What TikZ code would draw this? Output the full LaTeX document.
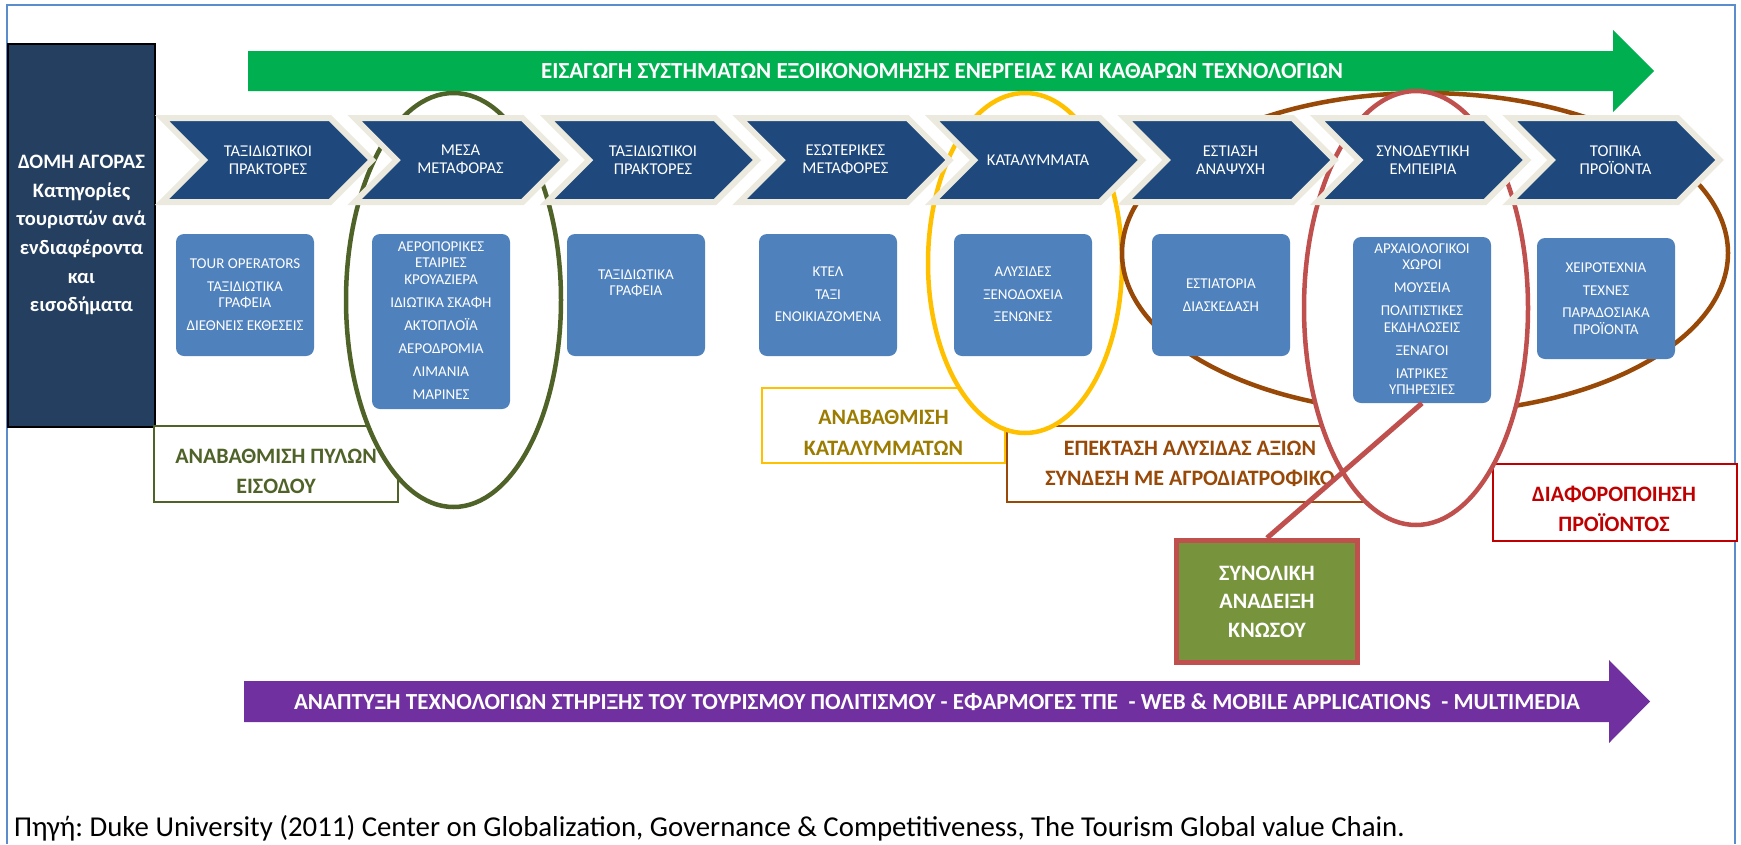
\documentclass[tikz,border=0pt]{standalone}
\usepackage{fontspec}
\setmainfont{Carlito}
\usetikzlibrary{shapes.geometric}
\frenchspacing
\definecolor{navybox}{RGB}{36,63,96}
\definecolor{chevnavy}{RGB}{31,73,125}
\definecolor{chevrim}{RGB}{236,234,222}
\definecolor{boxblue}{RGB}{79,129,189}
\definecolor{arrgreen}{RGB}{0,176,80}
\definecolor{arrpurple}{RGB}{112,48,160}
\definecolor{olivec}{RGB}{79,98,40}
\definecolor{goldc}{RGB}{255,192,0}
\definecolor{goldtext}{RGB}{156,124,0}
\definecolor{brownc}{RGB}{152,72,7}
\definecolor{redell}{RGB}{192,80,77}
\definecolor{redlab}{RGB}{192,0,0}
\definecolor{knfill}{RGB}{119,147,60}
\definecolor{framec}{RGB}{91,141,204}
\newcommand{\fntchev}{\fontsize{16.5}{18}\selectfont}
\newcommand{\fntbox}{\fontsize{15}{16.5}\selectfont}
\newcommand{\fntnav}{\bfseries\fontsize{20.5}{28.6}\selectfont}
\newcommand{\fntlab}{\bfseries\fontsize{22}{30.5}\selectfont}
\newcommand{\fntarr}{\bfseries\fontsize{23}{26}\selectfont}
\newcommand{\fntkn}{\bfseries\fontsize{22}{28.5}\selectfont}
\newcommand{\fntcap}{\fontsize{28.8}{32}\selectfont}
\begin{document}
\begin{tikzpicture}[x=1pt,y=-1pt,
  chev/.style={fill=chevnavy, draw=chevrim, line width=6pt, line join=miter},
  chevtext/.style={text=white, align=center, font=\fntchev, inner sep=0pt},
  bbox/.style={fill=boxblue, rounded corners=8pt, minimum width=138pt, inner sep=0pt},
  btext/.style={text=white, align=center, font=\fntbox, inner sep=0pt},
  lbox/.style={fill=white, line width=2.5pt, inner sep=0pt},
  ltext/.style={align=center, font=\fntlab, inner sep=0pt},
  ell/.style={ellipse, fill=white, line width=4.5pt, inner sep=0pt},
  arrtext/.style={text=white, font=\fntarr, inner sep=0pt},
  conn/.style={draw=redell, line width=5pt}]
\useasboundingbox (0,0) rectangle (1741,844);
% frame
\draw[framec, line width=2pt] (7,844) -- (7,5) -- (1735,5) -- (1735,844);
% left navy box
\node[draw=black, line width=2pt, fill=navybox, minimum width=147pt, minimum height=383pt, inner sep=0pt] (nav) at (81.5,235.5) {};
\node[text=white, align=center, font=\fntnav, inner sep=0pt] (navt) at (81.5,235) {ΔΟΜΗ ΑΓΟΡΑΣ\\Κατηγορίες\\τουριστών ανά\\ενδιαφέροντα\\και\\εισοδήματα};
% green arrow
\fill[arrgreen] (248,51) -- (1613,51) -- (1613,30) -- (1654,71) -- (1613,112) -- (1613,91) -- (248,91) -- cycle;
\node[arrtext] (gtext) at (942,71) {ΕΙΣΑΓΩΓΗ ΣΥΣΤΗΜΑΤΩΝ ΕΞΟΙΚΟΝΟΜΗΣΗΣ ΕΝΕΡΓΕΙΑΣ ΚΑΙ ΚΑΘΑΡΩΝ ΤΕΧΝΟΛΟΓΙΩΝ};
% purple arrow
\fill[arrpurple] (244,681) -- (1609,681) -- (1609,660) -- (1650,701.5) -- (1609,743) -- (1609,722) -- (244,722) -- cycle;
\node[arrtext] (ptext) at (937,702) {ΑΝΑΠΤΥΞΗ ΤΕΧΝΟΛΟΓΙΩΝ ΣΤΗΡΙΞΗΣ ΤΟΥ ΤΟΥΡΙΣΜΟΥ ΠΟΛΙΤΙΣΜΟΥ - ΕΦΑΡΜΟΓΕΣ ΤΠΕ \ - WEB \& MOBILE APPLICATIONS \ - MULTIMEDIA};
% label boxes
\node[lbox, draw=olivec, minimum width=244pt, minimum height=76pt] (l1) at (276,464) {};
\node[ltext, text=olivec] (l1t) at (276,471.5) {ΑΝΑΒΑΘΜΙΣΗ ΠΥΛΩΝ\\ΕΙΣΟΔΟΥ};
\node[lbox, draw=goldc, minimum width=243pt, minimum height=75pt] (l2) at (883.5,425.5) {};
\node[ltext, text=goldtext] (l2t) at (883.5,433) {ΑΝΑΒΑΘΜΙΣΗ\\ΚΑΤΑΛΥΜΜΑΤΩΝ};
\node[lbox, draw=brownc, minimum width=366pt, minimum height=76pt] (l3) at (1190,464) {};
\node[ltext, text=brownc] (l3t) at (1190,464) {ΕΠΕΚΤΑΣΗ ΑΛΥΣΙΔΑΣ ΑΞΙΩΝ\\ΣΥΝΔΕΣΗ ΜΕ ΑΓΡΟΔΙΑΤΡΟΦΙΚΟ};
\node[lbox, draw=redlab, minimum width=244pt, minimum height=77pt] (l4) at (1615,502.5) {};
\node[ltext, text=redlab] (l4t) at (1614,509) {ΔΙΑΦΟΡΟΠΟΙΗΣΗ\\ΠΡΟΪΟΝΤΟΣ};
% ellipses
\node[ell, draw=olivec, minimum width=215pt, minimum height=414pt] (eg) at (453.5,300) {};
\node[ell, draw=goldc, minimum width=194pt, minimum height=340pt] (ey) at (1025,263) {};
\node[ell, draw=brownc, minimum width=606pt, minimum height=320pt] (eb) at (1425,253) {};
\node[ell, draw=redell, minimum width=224pt, minimum height=434pt] (er) at (1416,308) {};
% chevrons
\foreach \i/\t in {0/{ΤΑΞΙΔΙΩΤΙΚΟΙ\\ΠΡΑΚΤΟΡΕΣ}, 1/{ΜΕΣΑ\\ΜΕΤΑΦΟΡΑΣ}, 2/{ΤΑΞΙΔΙΩΤΙΚΟΙ\\ΠΡΑΚΤΟΡΕΣ}, 3/{ΕΣΩΤΕΡΙΚΕΣ\\ΜΕΤΑΦΟΡΕΣ}, 4/{ΚΑΤΑΛΥΜΜΑΤΑ}, 5/{ΕΣΤΙΑΣΗ\\ΑΝΑΨΥΧΗ}, 6/{ΣΥΝΟΔΕΥΤΙΚΗ\\ΕΜΠΕΙΡΙΑ}, 7/{ΤΟΠΙΚΑ\\ΠΡΟΪΟΝΤΑ}}{
  \pgfmathsetmacro{\L}{155+192.5*\i}
  \draw[chev] (\L+7,118) -- (\L+175,118) -- (\L+217,160) -- (\L+175,202) -- (\L+7,202) -- (\L+49,160) -- cycle;
  \node[chevtext] (c\i) at (\L+113,160) {\t};
}
% blue boxes
\node[bbox, minimum height=122pt] (b1) at (245,295) {};
\node[btext] (b1t) at (245,294.5) {TOUR OPERATORS\\[6.5pt]ΤΑΞΙΔΙΩΤΙΚΑ\\ΓΡΑΦΕΙΑ\\[6.5pt]ΔΙΕΘΝΕΙΣ ΕΚΘΕΣΕΙΣ};
\node[bbox, minimum height=175pt] (b2) at (441,321.5) {};
\node[btext] (b2t) at (441,320.5) {ΑΕΡΟΠΟΡΙΚΕΣ\\ΕΤΑΙΡΙΕΣ\\ΚΡΟΥΑΖΙΕΡΑ\\[6.5pt]ΙΔΙΩΤΙΚΑ ΣΚΑΦΗ\\[6.5pt]ΑΚΤΟΠΛΟΪΑ\\[6.5pt]ΑΕΡΟΔΡΟΜΙΑ\\[6.5pt]ΛΙΜΑΝΙΑ\\[6.5pt]ΜΑΡΙΝΕΣ};
\node[bbox, minimum height=122pt] (b3) at (636,295) {};
\node[btext] (b3t) at (636,283) {ΤΑΞΙΔΙΩΤΙΚΑ\\ΓΡΑΦΕΙΑ};
\node[bbox, minimum height=122pt] (b4) at (828,295) {};
\node[btext] (b4t) at (828,294.5) {ΚΤΕΛ\\[6pt]ΤΑΞΙ\\[6pt]ΕΝΟΙΚΙΑΖΟΜΕΝΑ};
\node[bbox, minimum height=122pt] (b5) at (1023,295) {};
\node[btext] (b5t) at (1023,294.5) {ΑΛΥΣΙΔΕΣ\\[6pt]ΞΕΝΟΔΟΧΕΙΑ\\[6pt]ΞΕΝΩΝΕΣ};
\node[bbox, minimum height=122pt] (b6) at (1221,295) {};
\node[btext] (b6t) at (1221,295) {ΕΣΤΙΑΤΟΡΙΑ\\[7pt]ΔΙΑΣΚΕΔΑΣΗ};
\node[bbox, minimum height=166pt] (b7) at (1422,320) {};
\node[btext] (b7t) at (1422,319) {ΑΡΧΑΙΟΛΟΓΙΚΟΙ\\ΧΩΡΟΙ\\[6.5pt]ΜΟΥΣΕΙΑ\\[6.5pt]ΠΟΛΙΤΙΣΤΙΚΕΣ\\ΕΚΔΗΛΩΣΕΙΣ\\[6.5pt]ΞΕΝΑΓΟΙ\\[6.5pt]ΙΑΤΡΙΚΕΣ\\ΥΠΗΡΕΣΙΕΣ};
\node[bbox, minimum height=121pt] (b8) at (1606,298.5) {};
\node[btext] (b8t) at (1606,298.5) {ΧΕΙΡΟΤΕΧΝΙΑ\\[6pt]ΤΕΧΝΕΣ\\[6pt]ΠΑΡΑΔΟΣΙΑΚΑ\\ΠΡΟΪΟΝΤΑ};
% Knossos box and connector
\node[draw=redell, line width=5pt, fill=knfill, minimum width=181pt, minimum height=122pt, inner sep=0pt, text=white, align=center, font=\fntkn] (kn) at (1267,601.5) {ΣΥΝΟΛΙΚΗ\\ΑΝΑΔΕΙΞΗ\\ΚΝΩΣΟΥ};
\draw[conn] (b7.south) -- (kn.north);
% caption
\node[anchor=base west, inner sep=0pt, font=\fntcap] (src) at (14,836) {Πηγή: Duke University (2011) Center on Globalization, Governance \& Competitiveness, The Tourism Global value Chain.};
\end{tikzpicture}
\end{document}
